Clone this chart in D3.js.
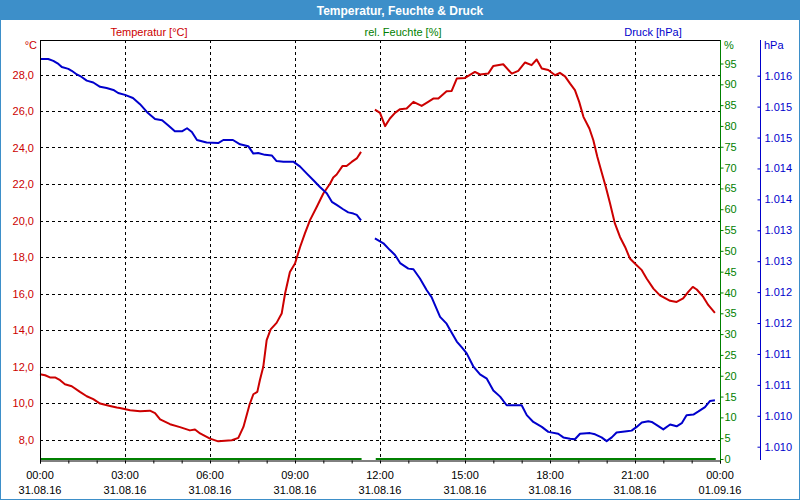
<!DOCTYPE html>
<html><head><meta charset="utf-8">
<script src="https://cdn.jsdelivr.net/npm/d3@7"></script>
<style>
body{margin:0;background:#fff}
svg{display:block}
text{font-family:"Liberation Sans",Arial,sans-serif}
</style>
</head><body>
<svg id="chart" width="800" height="500"></svg>
<script>
// ---------- data ----------
const titleText = "Temperatur, Feuchte & Druck";
const seriesNames = ["Temperatur [°C]", "rel. Feuchte [%]", "Druck [hPa]"];
const unitLabels = ["°C", "%", "hPa"];

const xTickHours = [0, 3, 6, 9, 12, 15, 18, 21, 24];
const xTickTimes = ["00:00","03:00","06:00","09:00","12:00","15:00","18:00","21:00","00:00"];
const xTickDates = ["31.08.16","31.08.16","31.08.16","31.08.16","31.08.16","31.08.16","31.08.16","31.08.16","01.09.16"];
const xMinorHours = d3.range(0, 25, 1);

const tempTicks = [8, 10, 12, 14, 16, 18, 20, 22, 24, 26, 28];
const humTicks = [0, 5, 10, 15, 20, 25, 30, 35, 40, 45, 50, 55, 60, 65, 70, 75, 80, 85, 90, 95];
const pressTicks = [1010, 1010.5, 1011, 1011.5, 1012, 1012.5, 1013, 1013.5, 1014, 1014.5, 1015, 1015.5, 1016];

// temperature (°C); null = gap in recording
const tempHours = [0,0.18,0.35,0.53,0.71,0.88,1.12,1.41,1.65,1.88,2.12,2.47,2.71,2.82,3.18,3.53,3.88,4.06,4.24,4.59,4.94,5.29,5.47,5.65,6.0,6.29,6.77,7.0,7.18,7.39,7.53,7.67,7.76,7.88,8.0,8.14,8.35,8.53,8.65,8.82,9.0,9.18,9.35,9.53,9.77,10.0,10.24,10.35,10.47,10.68,10.82,11.0,11.18,11.33,
  11.5,
  11.82,12.0,12.18,12.35,12.53,12.71,12.94,13.18,13.47,13.7,13.88,14.06,14.35,14.53,14.71,15.0,15.35,15.53,15.82,16.0,16.35,16.65,16.88,17.12,17.35,17.53,17.71,17.94,18.18,18.35,18.53,18.71,18.88,19.03,19.18,19.39,19.53,19.67,19.82,19.97,20.12,20.29,20.47,20.65,20.82,21.06,21.24,21.41,21.65,21.88,22.24,22.47,22.7,22.88,23.04,23.18,23.41,23.59,23.82];
const tempValues = [11.58,11.52,11.40,11.40,11.25,11.03,10.92,10.61,10.37,10.21,9.97,9.84,9.75,9.73,9.60,9.55,9.58,9.45,9.10,8.84,8.68,8.50,8.55,8.33,8.05,7.90,7.96,8.09,8.69,9.88,10.48,10.61,11.25,11.98,13.44,14.03,14.39,14.90,16.00,17.18,17.64,18.55,19.29,20.02,20.75,21.48,22.03,22.36,22.52,22.99,22.99,23.21,23.40,23.76,
  null,
  26.08,25.90,25.17,25.59,25.90,26.10,26.14,26.50,26.28,26.50,26.68,26.68,27.08,27.10,27.78,27.81,28.14,28.00,28.05,28.47,28.56,28.05,28.20,28.66,28.51,28.82,28.33,28.25,27.96,28.09,27.90,27.50,27.14,26.50,25.68,25.04,24.40,23.49,22.66,21.84,20.93,19.84,19.10,18.55,17.92,17.55,17.28,16.82,16.27,15.90,15.60,15.54,15.73,16.09,16.36,16.22,15.81,15.36,14.94];

// relative humidity (%)
const humHours = [0, 11.35, 11.5, 11.85, 23.85];
const humValues = [0, 0, null, 0, 0];

// pressure (hPa)
const pressHours = [0,0.29,0.47,0.65,0.77,1.0,1.12,1.3,1.47,1.65,1.88,2.12,2.35,2.59,2.76,3.0,3.28,3.53,3.78,4.06,4.31,4.52,4.76,5.01,5.19,5.36,5.54,5.88,6.29,6.47,6.81,7.06,7.35,7.53,7.7,7.94,8.18,8.35,8.59,8.94,9.18,9.41,9.65,9.88,10.12,10.3,10.47,10.7,10.88,11.06,11.18,11.33,
  11.5,
  11.82,12.12,12.35,12.53,12.71,13.0,13.18,13.41,13.65,13.82,14.12,14.35,14.47,14.71,14.88,15.06,15.29,15.53,15.77,16.0,16.24,16.47,17.0,17.18,17.41,17.71,17.94,18.29,18.47,18.71,18.88,19.06,19.41,19.59,19.82,20.0,20.18,20.35,20.71,20.88,21.06,21.24,21.47,21.59,21.77,22.0,22.24,22.47,22.65,22.82,23.06,23.24,23.47,23.65,23.82];
const pressValues = [1016.27,1016.27,1016.24,1016.19,1016.14,1016.11,1016.08,1016.02,1015.98,1015.92,1015.89,1015.82,1015.80,1015.77,1015.72,1015.69,1015.64,1015.54,1015.41,1015.30,1015.28,1015.20,1015.10,1015.10,1015.15,1015.09,1014.96,1014.92,1014.91,1014.96,1014.96,1014.89,1014.86,1014.74,1014.75,1014.72,1014.71,1014.62,1014.61,1014.61,1014.53,1014.42,1014.31,1014.20,1014.10,1013.96,1013.91,1013.84,1013.79,1013.77,1013.75,1013.66,
  null,
  1013.37,1013.29,1013.18,1013.10,1012.97,1012.88,1012.87,1012.72,1012.53,1012.42,1012.10,1011.99,1011.89,1011.70,1011.61,1011.51,1011.30,1011.17,1011.10,1010.91,1010.81,1010.67,1010.67,1010.51,1010.40,1010.32,1010.24,1010.21,1010.15,1010.13,1010.12,1010.21,1010.22,1010.20,1010.15,1010.09,1010.15,1010.23,1010.25,1010.26,1010.32,1010.39,1010.41,1010.40,1010.35,1010.28,1010.36,1010.33,1010.38,1010.51,1010.52,1010.57,1010.64,1010.74,1010.75];

// ---------- styles ----------
const RED = "#cc0000", GREEN = "#008000", BLUE = "#0000cc", FRAME = "#3d8fc9";

// ---------- drawing ----------
const svg = d3.select("#chart");
const L = 40, R = 720, T = 40, B = 460;

const x = d3.scaleLinear().domain([0, 24]).range([L, R]);
const yT = d3.scaleLinear().domain([8, 28]).range([439.5, 74.5]);
const yH = d3.scaleLinear().domain([0, 95]).range([459, 63.5]);
const yP = d3.scaleLinear().domain([1010, 1016]).range([446.7, 75.7]);

const de = d3.formatLocale({decimal: ",", thousands: ".", grouping: [3], currency: ["", "€"]});
const fmtT = de.format(".1f");
const fmtP = v => de.format(",d")(Math.floor(v));

svg.append("rect").attr("width", 800).attr("height", 500).attr("fill", "#ffffff");
svg.append("rect").attr("x", 0).attr("y", 0).attr("width", 800).attr("height", 20).attr("fill", FRAME);
svg.append("rect").attr("x", 0.5).attr("y", 0.5).attr("width", 799).attr("height", 499)
  .attr("fill", "none").attr("stroke", FRAME);

svg.append("text").attr("x", 400).attr("y", 14.5).attr("text-anchor", "middle")
  .attr("fill", "#fff").attr("font-weight", "bold").attr("font-size", 12).text(titleText);

// legend titles
const legendX = [149, 403, 653];
const legendC = [RED, GREEN, BLUE];
seriesNames.forEach((n, i) => {
  svg.append("text").attr("x", legendX[i]).attr("y", 35.5).attr("text-anchor", "middle")
    .attr("fill", legendC[i]).attr("font-size", 11).text(n);
});
svg.append("text").attr("x", 37).attr("y", 49).attr("text-anchor", "end").attr("fill", RED).attr("font-size", 11).text(unitLabels[0]);
svg.append("text").attr("x", 724).attr("y", 49).attr("fill", GREEN).attr("font-size", 11).text(unitLabels[1]);
svg.append("text").attr("x", 764).attr("y", 49).attr("fill", BLUE).attr("font-size", 11).text(unitLabels[2]);

// grid
const grid = svg.append("g").attr("stroke", "#000").attr("stroke-dasharray", "3,3").attr("shape-rendering", "crispEdges");
grid.selectAll("line.h").data(tempTicks).join("line")
  .attr("x1", L).attr("x2", R).attr("y1", d => Math.round(yT(d)) + 0.5).attr("y2", d => Math.round(yT(d)) + 0.5);
grid.selectAll("line.v").data(xTickHours.slice(1, -1)).join("line")
  .attr("y1", T).attr("y2", B).attr("x1", d => Math.round(x(d)) + 0.5).attr("x2", d => Math.round(x(d)) + 0.5);

// series lines
function drawLine(hours, values, yScale, color) {
  const pts = hours.map((h, i) => [h, values[i]]);
  const line = d3.line().defined(d => d[1] != null).x(d => x(d[0])).y(d => yScale(d[1]));
  svg.append("path").datum(pts).attr("d", line).attr("fill", "none")
    .attr("stroke", color).attr("stroke-width", 2).attr("stroke-linejoin", "round");
}
drawLine(humHours, humValues, yH, GREEN);
drawLine(tempHours, tempValues, yT, RED);
drawLine(pressHours, pressValues, yP, BLUE);

// frame
const frame = svg.append("g").attr("shape-rendering", "crispEdges");
frame.append("line").attr("x1", L).attr("x2", R).attr("y1", T + 0.5).attr("y2", T + 0.5).attr("stroke", "#000");
frame.append("line").attr("x1", L + 0.5).attr("x2", L + 0.5).attr("y1", T).attr("y2", B + 1).attr("stroke", "#000");

// bottom axis
const xAxis = d3.axisBottom(x).tickValues(xMinorHours).tickSize(3).tickFormat("");
const gx = svg.append("g").attr("transform", `translate(0,${B + 0.5})`).call(xAxis);
gx.select(".domain").attr("stroke", "#000");
gx.selectAll(".tick line").attr("stroke", "#000");
const xl = svg.append("g").attr("font-size", 11).attr("fill", "#000").attr("text-anchor", "middle");
xTickHours.forEach((h, i) => {
  xl.append("text").attr("x", x(h)).attr("y", 478.5).text(xTickTimes[i]);
  xl.append("text").attr("x", x(h)).attr("y", 494).text(xTickDates[i]);
});

// left temperature axis labels
const gl = svg.append("g").attr("font-size", 11).attr("fill", RED).attr("text-anchor", "end");
tempTicks.forEach(t => {
  gl.append("text").attr("x", 34).attr("y", yT(t) + 4).text(fmtT(t));
});

// humidity axis (green)
const hAxis = d3.axisRight(yH).tickValues(humTicks).tickSize(3).tickPadding(1).tickFormat(d3.format("d"));
const gh = svg.append("g").attr("transform", `translate(${R + 0.5},0)`).call(hAxis);
gh.select(".domain").attr("stroke", GREEN).attr("d", `M0,${T}V${B + 1}`);
gh.selectAll(".tick line").attr("stroke", GREEN);
gh.selectAll(".tick text").attr("fill", GREEN).attr("font-size", 11).attr("font-family", "Liberation Sans, Arial, sans-serif");

// pressure axis (blue)
const pAxis = d3.axisLeft(yP).tickValues(pressTicks).tickSize(3).tickFormat(fmtP);
const gp = svg.append("g").attr("transform", `translate(760.5,0)`).call(pAxis);
gp.select(".domain").attr("stroke", BLUE).attr("d", `M0,${T}V${B}`);
gp.selectAll(".tick line").attr("stroke", BLUE);
gp.selectAll(".tick text").attr("fill", BLUE).attr("font-size", 11).attr("text-anchor", "start")
  .attr("x", 4).attr("font-family", "Liberation Sans, Arial, sans-serif");
</script>
</body></html>
